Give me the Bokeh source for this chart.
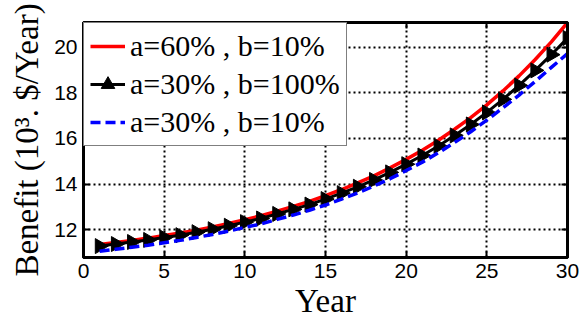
import math
from bokeh.plotting import figure
from bokeh.models import LinearAxis, FixedTicker, Range1d, Legend
from bokeh.embed import file_html
from bokeh.resources import INLINE

# Benefit per year (10^3 $/Year) for three parameter settings
years = list(range(1, 31))
benefit_a60_b10 = [11.35, 11.44, 11.53, 11.63, 11.74, 11.85, 11.98, 12.12, 12.27, 12.44,
                   12.61, 12.81, 13.02, 13.24, 13.49, 13.76, 14.05, 14.36, 14.71, 15.08,
                   15.48, 15.92, 16.40, 16.91, 17.47, 18.08, 18.74, 19.46, 20.23, 21.08]
benefit_a30_b100 = [11.28, 11.37, 11.46, 11.55, 11.66, 11.76, 11.89, 12.02, 12.17, 12.33,
                    12.49, 12.69, 12.89, 13.10, 13.34, 13.60, 13.88, 14.18, 14.51, 14.87,
                    15.25, 15.67, 16.13, 16.61, 17.14, 17.71, 18.32, 18.98, 19.67, 20.40]
benefit_a30_b10 = [11.05, 11.14, 11.23, 11.32, 11.43, 11.53, 11.66, 11.79, 11.94, 12.10,
                   12.25, 12.45, 12.64, 12.85, 13.08, 13.34, 13.61, 13.91, 14.23, 14.59,
                   14.96, 15.37, 15.82, 16.29, 16.80, 17.34, 17.90, 18.50, 19.11, 19.72]

labels = ["a=60% , b=10%", "a=30% , b=100%", "a=30% , b=10%"]
x_ticks = [0, 5, 10, 15, 20, 25, 30]
y_ticks = [12, 14, 16, 18, 20]

SERIF = "Liberation Serif"
SANS = "Liberation Sans"

p = figure(width=581, height=327, output_backend="svg", toolbar_location=None,
           x_range=Range1d(0, 30), y_range=Range1d(10.78, 21.08),
           min_border_left=83, min_border_right=14, min_border_top=22, min_border_bottom=70,
           x_axis_label="Year", y_axis_label="Benefit (10³. $/Year)")
p.background_fill_color = "white"
p.border_fill_color = "white"
p.outline_line_color = "black"
p.outline_line_width = 3

# dotted grid
for g, t in ((p.xgrid, x_ticks), (p.ygrid, y_ticks)):
    g.ticker = FixedTicker(ticks=t)
    g.grid_line_color = "black"
    g.grid_line_width = 2
    g.grid_line_dash = "2 3"

def style_axis(ax, ticks, labelled=True):
    ax.ticker = FixedTicker(ticks=ticks)
    ax.axis_line_color = "black"
    ax.axis_line_width = 3
    ax.major_tick_in = 6
    ax.major_tick_out = 0
    ax.major_tick_line_width = 2
    ax.major_tick_line_color = "black"
    ax.minor_tick_line_color = None
    if labelled:
        ax.major_label_text_font = SANS
        ax.major_label_text_font_size = "21px"
        ax.major_label_text_color = "black"
        ax.major_label_standoff = 6
        ax.axis_label_text_font = SERIF
        ax.axis_label_text_font_size = "33px"
        ax.axis_label_text_font_style = "normal"
        ax.axis_label_text_color = "black"
        ax.axis_label_standoff = 6
    else:
        # box axes on top/right carry only inward ticks
        ax.major_label_overrides = {t: "" for t in ticks}
        ax.major_label_standoff = 0

style_axis(p.xaxis[0], x_ticks)
style_axis(p.yaxis[0], y_ticks)
p.xaxis[0].axis_label_standoff = 2

top_axis = LinearAxis()
right_axis = LinearAxis()
style_axis(top_axis, x_ticks, labelled=False)
style_axis(right_axis, y_ticks, labelled=False)
p.add_layout(top_axis, "above")
p.add_layout(right_axis, "right")

r_red = p.line(years, benefit_a60_b10, line_color="red", line_width=3.5)
r_blk = p.line(years, benefit_a30_b100, line_color="black", line_width=3)
r_blk_m = p.scatter(years, benefit_a30_b100, marker="triangle", size=15,
                    angle=-math.pi / 2, fill_color="black", line_color="black")
r_blue = p.line(years, benefit_a30_b10, line_color="blue", line_width=3.5, line_dash="10 5")

legend = Legend(items=[(labels[0], [r_red]),
                       (labels[1], [r_blk, r_blk_m]),
                       (labels[2], [r_blue])],
                location="top_left")
legend.margin = 0
legend.padding = 6
legend.spacing = 4
legend.label_height = 34
legend.glyph_height = 34
legend.glyph_width = 35
legend.label_standoff = 5
legend.label_text_font = SERIF
legend.label_text_font_size = "30px"
legend.label_text_color = "black"
legend.border_line_color = "black"
legend.border_line_width = 1
legend.background_fill_color = "white"
legend.background_fill_alpha = 1.0
p.add_layout(legend, "center")

open("out.html", "w").write(file_html(p, INLINE))
